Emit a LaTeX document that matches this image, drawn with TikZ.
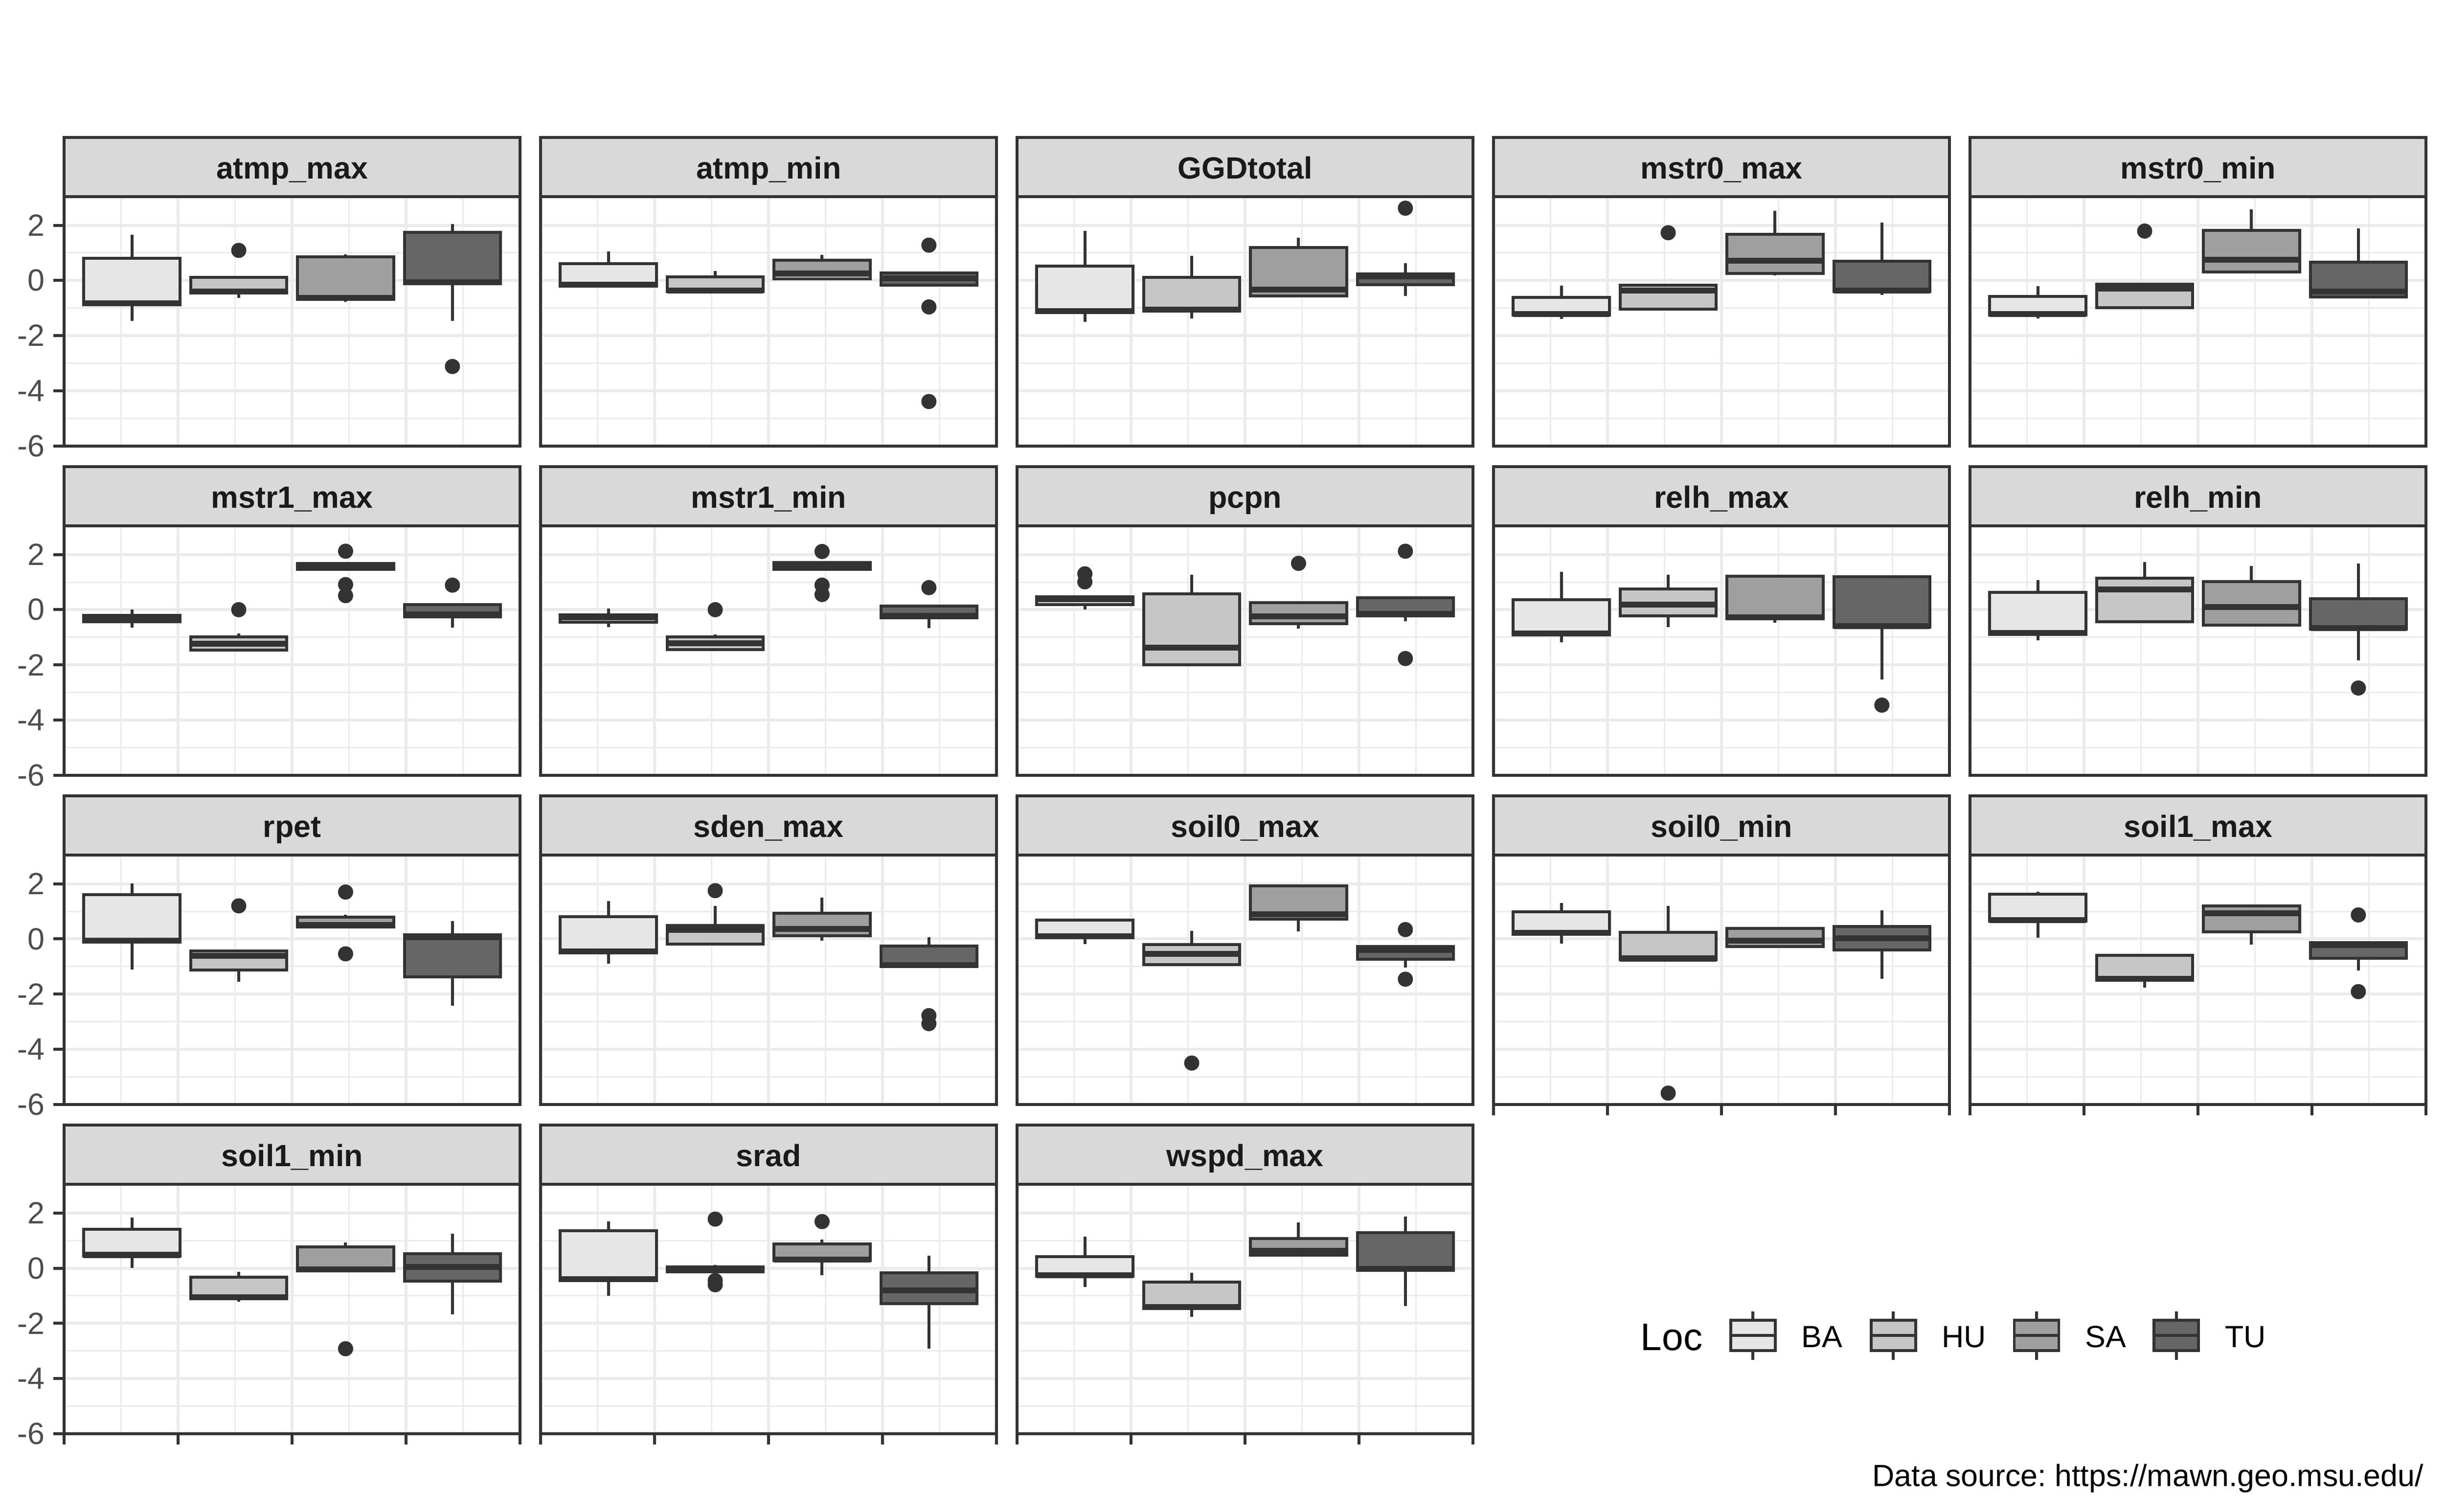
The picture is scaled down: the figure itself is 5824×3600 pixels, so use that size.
\documentclass[tikz,border=0pt]{standalone}
\usepackage{fontspec}
\setmainfont{Liberation Sans}
\definecolor{loc1}{HTML}{E6E6E6}
\definecolor{loc2}{HTML}{C6C6C6}
\definecolor{loc3}{HTML}{9F9F9F}
\definecolor{loc4}{HTML}{666666}
\definecolor{grey10}{HTML}{1A1A1A}
\definecolor{grey20}{HTML}{333333}
\definecolor{grey30}{HTML}{4D4D4D}
\definecolor{grey85}{HTML}{D9D9D9}
\definecolor{grey92}{HTML}{EBEBEB}

\tikzset{
  panel/.style 2 args={shift={({153+1134.5*#1},{667.8+784*#2})},x=45.932mm,y=2.7796mm},
  majorgrid/.style={draw=grey92,line width=0.84pt},
  minorgrid/.style={draw=grey92,line width=0.42pt},
  frame/.style={draw=grey20,line width=0.84pt},
  whisker/.style={draw=grey20,line width=0.84pt},
  boxedge/.style={draw=grey20,line width=0.84pt},
  median/.style={draw=grey20,line width=1.69pt},
  outlier/.style={fill=grey20},
  tick/.style={draw=grey20,line width=0.84pt},
  ticklabel/.style={text=grey30,font=\fontsize{8.8}{10}\selectfont,inner sep=0pt,anchor=east},
  striplabel/.style={text=grey10,font=\fontsize{8.8}{10}\selectfont\bfseries,inner sep=0pt,anchor=base},
  legendtitle/.style={font=\fontsize{11}{13}\selectfont,inner sep=0pt,anchor=base west},
  legendlabel/.style={font=\fontsize{8.8}{10}\selectfont,inner sep=0pt,anchor=base west},
  caption/.style={font=\fontsize{8.8}{10}\selectfont\frenchspacing,inner sep=0pt,anchor=base east},
}

% one box: Loc index, lower whisker, lower hinge, median, upper hinge, upper whisker
\newcommand{\bxp}[6]{%
  \pgfmathsetmacro{\cx}{0.1484+0.2344*(#1-1)}
  \draw[whisker] (\cx,#2) -- (\cx,#3) (\cx,#5) -- (\cx,#6);
  \filldraw[boxedge,fill=loc#1] (\cx-0.1055,#3) rectangle (\cx+0.1055,#5);
  \draw[median] (\cx-0.1055,#4) -- (\cx+0.1055,#4);
}
% outlying points of one box
\newcommand{\outl}[2]{%
  \pgfmathsetmacro{\cx}{0.1484+0.2344*(#1-1)}
  \foreach \v in {#2} \fill[outlier] (\cx,\v) circle[radius=0.762mm];
}
% one facet: column, row, node name, strip text, boxes
\newcommand{\facet}[5]{%
  \begin{scope}[panel={#1}{#2}]
    \fill[white] (0,-6) rectangle (1,3.043);
    \foreach \v in {-5,-3,-1,1} \draw[minorgrid] (0,\v) -- (1,\v);
    \foreach \u in {0.125,0.375,0.625,0.875} \draw[minorgrid] (\u,-6) -- (\u,3.043);
    \foreach \v in {-4,-2,0,2} \draw[majorgrid] (0,\v) -- (1,\v);
    \foreach \u in {0.25,0.5,0.75} \draw[majorgrid] (\u,-6) -- (\u,3.043);
    #5
    \draw[frame] (0,-6) rectangle (1,3.043);
    \filldraw[frame,fill=grey85] (0,3.043) rectangle (1,5.190);
    \node[striplabel] (#3) at (0.5,3.682) {#4};
  \end{scope}
}

\begin{document}
\begin{tikzpicture}[x=0.0423333mm,y=-0.0423333mm]
\useasboundingbox (0,0) rectangle (5824,3600);
\fill[white] (0,0) rectangle (5824,3600);

% row 1
\facet{0}{0}{atmpmax}{atmp\_max}{
  \bxp{1}{-1.46}{-0.88}{-0.83}{0.80}{1.66}
  \bxp{2}{-0.63}{-0.45}{-0.40}{0.12}{0.12}
  \bxp{3}{-0.78}{-0.68}{-0.63}{0.85}{0.94}
  \bxp{4}{-1.47}{-0.12}{-0.07}{1.75}{2.04}
  \outl{2}{1.09} \outl{4}{-3.12}}
\facet{1}{0}{atmpmin}{atmp\_min}{
  \bxp{1}{-0.21}{-0.21}{-0.16}{0.61}{1.06}
  \bxp{2}{-0.41}{-0.41}{-0.36}{0.13}{0.35}
  \bxp{3}{0.05}{0.05}{0.26}{0.73}{0.92}
  \bxp{4}{-0.17}{-0.17}{0.07}{0.27}{0.27}
  \outl{4}{1.28,-0.96,-4.39}}
\facet{2}{0}{GGDtotal}{GGDtotal}{
  \bxp{1}{-1.50}{-1.16}{-1.11}{0.52}{1.80}
  \bxp{2}{-1.38}{-1.11}{-1.06}{0.12}{0.89}
  \bxp{3}{-0.56}{-0.56}{-0.33}{1.20}{1.54}
  \bxp{4}{-0.56}{-0.16}{0.15}{0.24}{0.63}
  \outl{4}{2.62}}
\facet{3}{0}{mstrzeromax}{mstr0\_max}{
  \bxp{1}{-1.40}{-1.26}{-1.21}{-0.61}{-0.19}
  \bxp{2}{-1.04}{-1.04}{-0.37}{-0.17}{-0.17}
  \bxp{3}{0.19}{0.26}{0.71}{1.68}{2.52}
  \bxp{4}{-0.53}{-0.41}{-0.36}{0.70}{2.10}
  \outl{2}{1.73}}
\facet{4}{0}{mstrzeromin}{mstr0\_min}{
  \bxp{1}{-1.37}{-1.26}{-1.21}{-0.58}{-0.20}
  \bxp{2}{-0.98}{-0.98}{-0.29}{-0.14}{-0.14}
  \bxp{3}{0.30}{0.30}{0.75}{1.81}{2.58}
  \bxp{4}{-0.60}{-0.60}{-0.40}{0.67}{1.88}
  \outl{2}{1.79}}

% row 2
\facet{0}{1}{mstronemax}{mstr1\_max}{
  \bxp{1}{-0.65}{-0.44}{-0.32}{-0.20}{0.01}
  \bxp{2}{-1.47}{-1.47}{-1.24}{-0.99}{-0.86}
  \bxp{3}{1.47}{1.47}{1.57}{1.68}{1.68}
  \bxp{4}{-0.65}{-0.26}{-0.17}{0.18}{0.18}
  \outl{2}{0.0} \outl{3}{2.12,0.91,0.51} \outl{4}{0.89}}
\facet{1}{1}{mstronemin}{mstr1\_min}{
  \bxp{1}{-0.63}{-0.46}{-0.27}{-0.18}{0.04}
  \bxp{2}{-1.45}{-1.45}{-1.22}{-0.99}{-0.89}
  \bxp{3}{1.47}{1.47}{1.60}{1.71}{1.71}
  \bxp{4}{-0.66}{-0.30}{-0.23}{0.13}{0.13}
  \outl{2}{0.0} \outl{3}{2.11,0.89,0.55} \outl{4}{0.80}}
\facet{2}{1}{pcpn}{pcpn}{
  \bxp{1}{0.0}{0.19}{0.38}{0.47}{0.47}
  \bxp{2}{-1.99}{-1.99}{-1.38}{0.58}{1.26}
  \bxp{3}{-0.68}{-0.50}{-0.24}{0.25}{0.25}
  \bxp{4}{-0.42}{-0.23}{-0.16}{0.43}{0.43}
  \outl{1}{1.30,1.01} \outl{3}{1.68} \outl{4}{2.12,-1.77}}
\facet{3}{1}{relhmax}{relh\_max}{
  \bxp{1}{-1.19}{-0.91}{-0.86}{0.37}{1.37}
  \bxp{2}{-0.63}{-0.22}{0.19}{0.76}{1.26}
  \bxp{3}{-0.47}{-0.33}{-0.28}{1.21}{1.21}
  \bxp{4}{-2.53}{-0.64}{-0.59}{1.20}{1.20}
  \outl{4}{-3.46}}
\facet{4}{1}{relhmin}{relh\_min}{
  \bxp{1}{-1.11}{-0.89}{-0.84}{0.63}{1.07}
  \bxp{2}{-0.44}{-0.44}{0.73}{1.14}{1.73}
  \bxp{3}{-0.56}{-0.56}{0.10}{1.01}{1.58}
  \bxp{4}{-1.83}{-0.71}{-0.66}{0.39}{1.67}
  \outl{4}{-2.84}}

% row 3
\facet{0}{2}{rpet}{rpet}{
  \bxp{1}{-1.11}{-0.11}{-0.06}{1.60}{2.02}
  \bxp{2}{-1.55}{-1.13}{-0.61}{-0.44}{-0.44}
  \bxp{3}{0.43}{0.43}{0.51}{0.79}{0.88}
  \bxp{4}{-2.43}{-1.37}{0.07}{0.15}{0.64}
  \outl{2}{1.20} \outl{3}{1.70,-0.54}}
\facet{1}{2}{sdenmax}{sden\_max}{
  \bxp{1}{-0.90}{-0.50}{-0.45}{0.81}{1.37}
  \bxp{2}{-0.19}{-0.19}{0.33}{0.48}{1.20}
  \bxp{3}{-0.07}{0.12}{0.36}{0.93}{1.50}
  \bxp{4}{-1.00}{-1.00}{-0.95}{-0.25}{0.07}
  \outl{2}{1.75} \outl{4}{-2.78,-3.07}}
\facet{2}{2}{soilzeromax}{soil0\_max}{
  \bxp{1}{-0.19}{0.04}{0.10}{0.69}{0.69}
  \bxp{2}{-0.93}{-0.93}{-0.54}{-0.20}{0.30}
  \bxp{3}{0.27}{0.71}{0.90}{1.93}{1.93}
  \bxp{4}{-1.04}{-0.74}{-0.40}{-0.27}{-0.27}
  \outl{2}{-4.50} \outl{4}{0.34,-1.46}}
\facet{3}{2}{soilzeromin}{soil0\_min}{
  \bxp{1}{-0.16}{0.17}{0.22}{0.98}{1.31}
  \bxp{2}{-0.76}{-0.76}{-0.71}{0.24}{1.20}
  \bxp{3}{-0.28}{-0.28}{-0.06}{0.38}{0.38}
  \bxp{4}{-1.44}{-0.40}{0.03}{0.46}{1.04}
  \outl{2}{-5.59}}
\facet{4}{2}{soilonemax}{soil1\_max}{
  \bxp{1}{0.04}{0.64}{0.69}{1.62}{1.71}
  \bxp{2}{-1.76}{-1.50}{-1.45}{-0.60}{-0.60}
  \bxp{3}{-0.20}{0.25}{0.93}{1.19}{1.19}
  \bxp{4}{-1.15}{-0.70}{-0.22}{-0.14}{-0.14}
  \outl{4}{0.87,-1.91}}

% row 4
\facet{0}{3}{soilonemin}{soil1\_min}{
  \bxp{1}{0.01}{0.43}{0.48}{1.41}{1.83}
  \bxp{2}{-1.22}{-1.10}{-1.05}{-0.33}{-0.13}
  \bxp{3}{-0.09}{-0.09}{-0.04}{0.77}{0.94}
  \bxp{4}{-1.68}{-0.46}{0.05}{0.53}{1.25}
  \outl{3}{-2.92}}
\facet{1}{3}{srad}{srad}{
  \bxp{1}{-1.00}{-0.45}{-0.40}{1.35}{1.69}
  \bxp{2}{-0.14}{-0.14}{-0.05}{0.04}{0.12}
  \bxp{3}{-0.25}{0.27}{0.32}{0.88}{1.04}
  \bxp{4}{-2.91}{-1.28}{-0.80}{-0.16}{0.45}
  \outl{2}{1.78,-0.45,-0.60} \outl{3}{1.69}}
\facet{2}{3}{wspdmax}{wspd\_max}{
  \bxp{1}{-0.68}{-0.30}{-0.25}{0.42}{1.15}
  \bxp{2}{-1.77}{-1.46}{-1.41}{-0.50}{-0.16}
  \bxp{3}{0.48}{0.48}{0.63}{1.07}{1.66}
  \bxp{4}{-1.37}{-0.08}{-0.03}{1.29}{1.88}}

% y axis of the first column
\foreach \r in {0,...,3} {
  \begin{scope}[panel={0}{\r}]
    \foreach \v [count=\k] in {2,0,-2,-4,-6} {
      \draw[tick] (0,\v) -- (-0.024,\v);
      \node[ticklabel] (ylab\r\k) at (-0.0415,\v) {\v};
    }
  \end{scope}
}
% x ticks under the lowest panels
\foreach \c/\r in {0/3,1/3,2/3,3/2,4/2} {
  \begin{scope}[panel={\c}{\r}]
    \foreach \t in {0,0.25,0.5,0.75,1} \draw[tick] (\t,-6) -- (\t,-6.396);
  \end{scope}
}

% legend
\node[legendtitle] (loctitle) at (3905,3215) {Loc};
\foreach \x/\lab [count=\k] in {4174/BA,4508/HU,4849/SA,5182/TU} {
  \draw[whisker] (\x,3123) -- (\x,3144) (\x,3216) -- (\x,3238);
  \filldraw[boxedge,fill=loc\k] (\x-53,3144) rectangle (\x+53,3216);
  \draw[boxedge] (\x-53,3180) -- (\x+53,3180);
  \node[legendlabel] (key\lab) at (\x+114,3208) {\lab};
}

\node[caption] (source) at (5772,3539) {Data source: https://mawn.geo.msu.edu/};
\end{tikzpicture}
\end{document}
